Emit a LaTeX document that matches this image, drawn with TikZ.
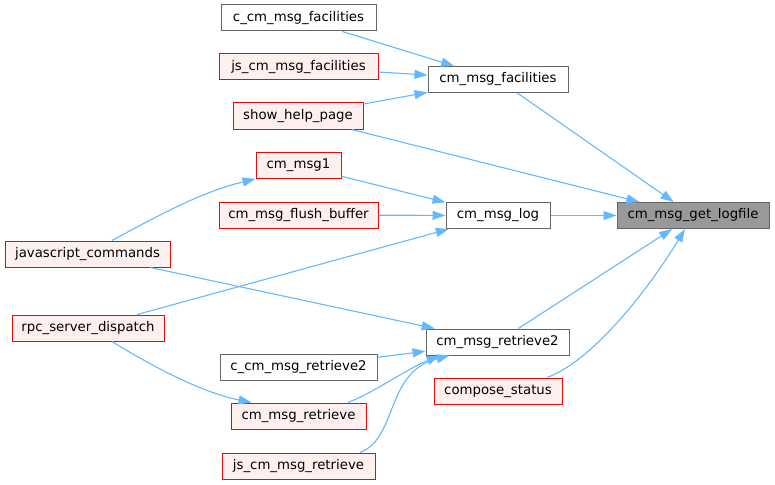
\documentclass[tikz,border=0pt]{standalone}
\usepackage{fontspec}
\setmainfont{DejaVu Sans}
\usetikzlibrary{arrows.meta}
\definecolor{edgeblue}{HTML}{63B8FF}
\definecolor{redfill}{HTML}{FFF0F0}
\definecolor{graybd}{HTML}{666666}
\definecolor{rootfill}{HTML}{999999}
\tikzset{
  fn/.style={rectangle, draw=graybd, fill=white, line width=1pt, minimum height=26pt, inner sep=0pt, font=\fontsize{13.3}{15}\selectfont, text=black},
  redfn/.style={fn, draw=red, fill=redfill},
  rootfn/.style={fn, fill=rootfill},
  edge/.style={draw=edgeblue, line width=1.1pt, -{Triangle[length=13pt,width=9pt]}},
}
\begin{document}
\begin{tikzpicture}[x=1pt,y=-1pt]
\useasboundingbox (0,0) rectangle (775,484);
% nodes
\node[fn, minimum width=155pt] (cfac) at (298.5,18) {c\_cm\_msg\_facilities};
\node[redfn, minimum width=159pt] (jsfac) at (298.5,67) {js\_cm\_msg\_facilities};
\node[redfn, minimum width=130pt] (help) at (298,116) {show\_help\_page};
\node[redfn, minimum width=85pt] (msg1) at (298.5,165.5) {cm\_msg1};
\node[redfn, minimum width=159pt] (flush) at (298.5,215) {cm\_msg\_flush\_buffer};
\node[redfn, minimum width=165pt] (jscmd) at (87.5,254) {javascript\_commands};
\node[redfn, minimum width=152pt] (rpc) at (88,328) {rpc\_server\_dispatch};
\node[fn, minimum width=157pt] (cret2) at (298.5,367.5) {c\_cm\_msg\_retrieve2};
\node[redfn, minimum width=135pt] (ret) at (298.5,416) {cm\_msg\_retrieve};
\node[redfn, minimum width=153pt] (jsret) at (298.5,466) {js\_cm\_msg\_retrieve};
\node[fn, minimum width=140pt] (fac) at (498,79.5) {cm\_msg\_facilities};
\node[fn, minimum width=104pt] (log) at (498,215.5) {cm\_msg\_log};
\node[rootfn, minimum width=152pt] (getlog) at (693,215.5) {cm\_msg\_get\_logfile};
\node[fn, minimum width=143pt] (ret2) at (497.5,342) {cm\_msg\_retrieve2};
\node[redfn, minimum width=128pt] (compose) at (498,391) {compose\_status};
% edges
\draw[edge] (cfac) -- (fac);
\draw[edge] (jsfac) -- (fac);
\draw[edge] (help) -- (fac);
\draw[edge] (help) -- (getlog);
\draw[edge] (fac) -- (getlog);
\draw[edge] (msg1) -- (log);
\draw[edge] (flush) -- (log);
\draw[edge] ([xshift=24.5pt]jscmd.north) .. controls (150,220) and (200,192) .. (msg1.south west);
\draw[edge] (rpc) -- (log);
\draw[edge] (log) -- (getlog);
\draw[edge] (jscmd) -- (ret2);
\draw[edge] ([xshift=24pt]rpc.south) .. controls (150,365) and (200,392) .. ([xshift=-47pt]ret.north);
\draw[edge] (cret2) -- (ret2);
\draw[edge] ([xshift=49.5pt]ret.north) .. controls (375,392) and (405,370) .. ([xshift=-58pt]ret2.south);
\draw[edge] ([xshift=61.5pt]jsret.north) .. controls (398,438) and (385,372) .. ([xshift=-48pt]ret2.south);
\draw[edge] (ret2) -- (getlog);
\draw[edge] ([xshift=49pt]compose.north) .. controls (590,362) and (645,295) .. ([xshift=-8pt]getlog.south);
\end{tikzpicture}
\end{document}
